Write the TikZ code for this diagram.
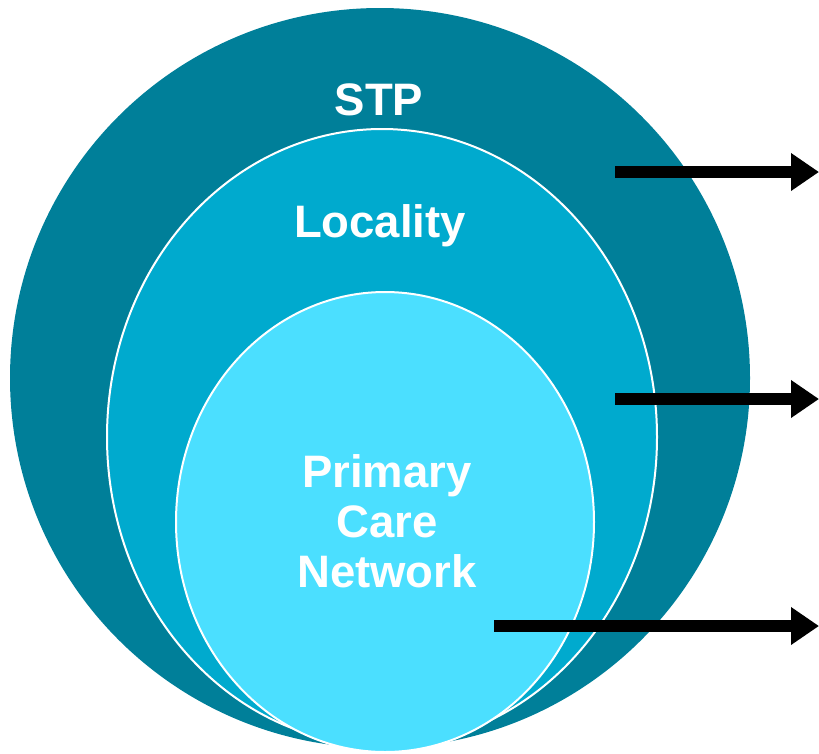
\documentclass[tikz,border=0pt]{standalone}
\usepackage{fontspec}
\setmainfont{Liberation Sans}
\usetikzlibrary{arrows.meta}
\definecolor{stpcol}{RGB}{0,127,153}
\definecolor{loccol}{RGB}{0,170,206}
\definecolor{pcncol}{RGB}{75,223,255}
\tikzset{
  lbl/.style={text=white, font=\bfseries\fontsize{45.5}{50}\selectfont, inner sep=0pt, anchor=base, align=center},
  ring/.style={draw=white, line width=2pt},
  bigarrow/.style={line width=12pt, -{Triangle[length=28pt,width=36pt]}}
}
\begin{document}
\begin{tikzpicture}[x=1pt,y=-1pt]
\useasboundingbox (0,0) rectangle (819,753);
\fill[stpcol] (380,378) ellipse [x radius=370, y radius=370];
\path[ring, fill=loccol] (382,437) ellipse [x radius=275, y radius=308];
\path[ring, fill=pcncol] (385,522) ellipse [x radius=209, y radius=230];
\node[lbl] (stp) at (379,115) {STP};
\node[lbl] (loc) at (380,237) {Locality};
\node[lbl] (pcn) at (387,587) {Primary\\Care\\Network};
\coordinate (a1s) at (615,172);
\coordinate (a1e) at (819,172);
\coordinate (a2s) at (615,399);
\coordinate (a2e) at (819,399);
\coordinate (a3s) at (494,626);
\coordinate (a3e) at (819,626);
\draw[bigarrow] (a1s) -- (a1e);
\draw[bigarrow] (a2s) -- (a2e);
\draw[bigarrow] (a3s) -- (a3e);
\end{tikzpicture}
\end{document}
